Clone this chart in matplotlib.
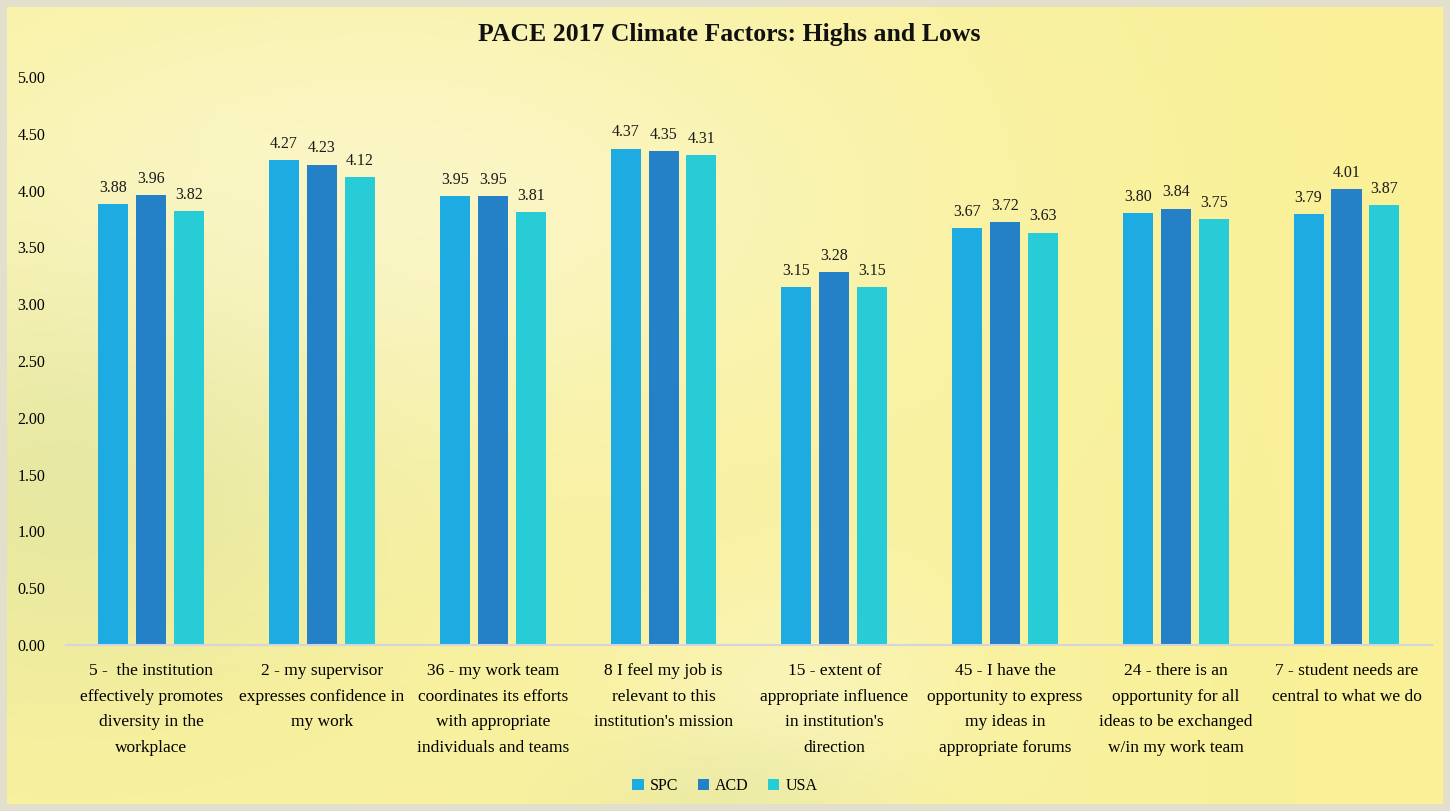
import matplotlib.pyplot as plt
import numpy as np
from matplotlib.patches import Rectangle

plt.switch_backend('Agg')
plt.rcParams['font.family'] = ['Liberation Serif', 'DejaVu Serif']

# Data
categories = [
    "5 -  the institution\neffectively promotes\ndiversity in the\nworkplace",
    "2 - my supervisor\nexpresses confidence in\nmy work",
    "36 - my work team\ncoordinates its efforts\nwith appropriate\nindividuals and teams",
    "8 I feel my job is\nrelevant to this\ninstitution's mission",
    "15 - extent of\nappropriate influence\nin institution's\ndirection",
    "45 - I have the\nopportunity to express\nmy ideas in\nappropriate forums",
    "24 - there is an\nopportunity for all\nideas to be exchanged\nw/in my work team",
    "7 - student needs are\ncentral to what we do",
]
spc = [3.88, 4.27, 3.95, 4.37, 3.15, 3.67, 3.80, 3.79]
acd = [3.96, 4.23, 3.95, 4.35, 3.28, 3.72, 3.84, 4.01]
usa = [3.82, 4.12, 3.81, 4.31, 3.15, 3.63, 3.75, 3.87]
series_names = ['SPC', 'ACD', 'USA']
colors = ['#1EABE2', '#2581C7', '#27CCD7']

fig = plt.figure(figsize=(14.5, 8.11), dpi=100)

# Soft yellow "photo" background
h, w = 811, 1450
yy, xx = np.mgrid[0:h, 0:w] / np.array([h, w]).reshape(2, 1, 1)
bg = np.zeros((h, w, 3))
bg[..., 0] = 0.975
bg[..., 1] = 0.945
bg[..., 2] = 0.62
# whitish haze in the upper left / centre
haze = np.exp(-(((xx - 0.25) / 0.35) ** 2 + ((yy - 0.25) / 0.3) ** 2))
haze += 0.6 * np.exp(-(((xx - 0.55) / 0.12) ** 2 + ((yy - 0.85) / 0.15) ** 2))
for c, v in zip(range(3), [0.99, 0.98, 0.88]):
    bg[..., c] = bg[..., c] * (1 - 0.6 * np.clip(haze, 0, 1)) + v * 0.6 * np.clip(haze, 0, 1)
# greenish tint on the lower left
green = np.exp(-(((xx - 0.05) / 0.2) ** 2 + ((yy - 0.6) / 0.25) ** 2))
green += 0.7 * np.exp(-(((xx - 0.5) / 0.1) ** 2 + ((yy - 0.98) / 0.08) ** 2))
green = np.clip(green, 0, 1) * 0.35
for c, v in zip(range(3), [0.78, 0.84, 0.62]):
    bg[..., c] = bg[..., c] * (1 - green) + v * green
# stronger yellow on the right
yel = np.clip((xx - 0.6) / 0.4, 0, 1) * 0.4
for c, v in zip(range(3), [0.98, 0.94, 0.55]):
    bg[..., c] = bg[..., c] * (1 - yel) + v * yel

bax = fig.add_axes([0, 0, 1, 1], zorder=-1)
bax.imshow(bg, aspect='auto', extent=[0, 1, 0, 1])
bax.add_patch(Rectangle((0, 0), 1, 1, fill=False, edgecolor='#e2dfcc',
                        linewidth=10, transform=bax.transAxes))
bax.axis('off')

ax = fig.add_axes([0.0455, 0.2047, 0.942, 0.7003])
ax.patch.set_alpha(0)

x = np.arange(len(categories))
bw = 0.176
offs = [-0.222, 0, 0.222]
for vals, name, col, off in zip([spc, acd, usa], series_names, colors, offs):
    bars = ax.bar(x + off, vals, width=bw, color=col, label=name)
    for b, v in zip(bars, vals):
        ax.annotate(f'{v:.2f}', (b.get_x() + b.get_width() / 2, v),
                    xytext=(0, 6), textcoords='offset points',
                    ha='center', va='bottom', fontsize=11.5, color='#1a1a1a')

ax.set_xlim(-0.5, len(categories) - 0.5)
ax.set_ylim(0, 5)
ax.set_yticks(np.arange(0, 5.01, 0.5))
ax.set_yticklabels([f'{t:.2f}' for t in np.arange(0, 5.01, 0.5)], fontsize=11.5)
ax.set_xticks(x)
ax.set_xticklabels(categories, fontsize=12.5, linespacing=1.8, va='top')
ax.tick_params(axis='y', length=0, pad=15)
ax.tick_params(axis='x', length=0, pad=13)
for s in ['top', 'right', 'left']:
    ax.spines[s].set_visible(False)
ax.spines['bottom'].set_color('#d4d4de')
ax.spines['bottom'].set_linewidth(1.5)

fig.text(0.503, 0.958, 'PACE 2017 Climate Factors: Highs and Lows',
         ha='center', va='center', fontsize=18.5, fontweight='bold', color='#111111')

fig.legend(loc='center', bbox_to_anchor=(0.5, 0.031), ncol=3, frameon=False,
           fontsize=11.5, handlelength=0.7, handleheight=0.7, handletextpad=0.4,
           columnspacing=1.2)

fig.savefig('out.png', dpi=100)
plt.close(fig)
